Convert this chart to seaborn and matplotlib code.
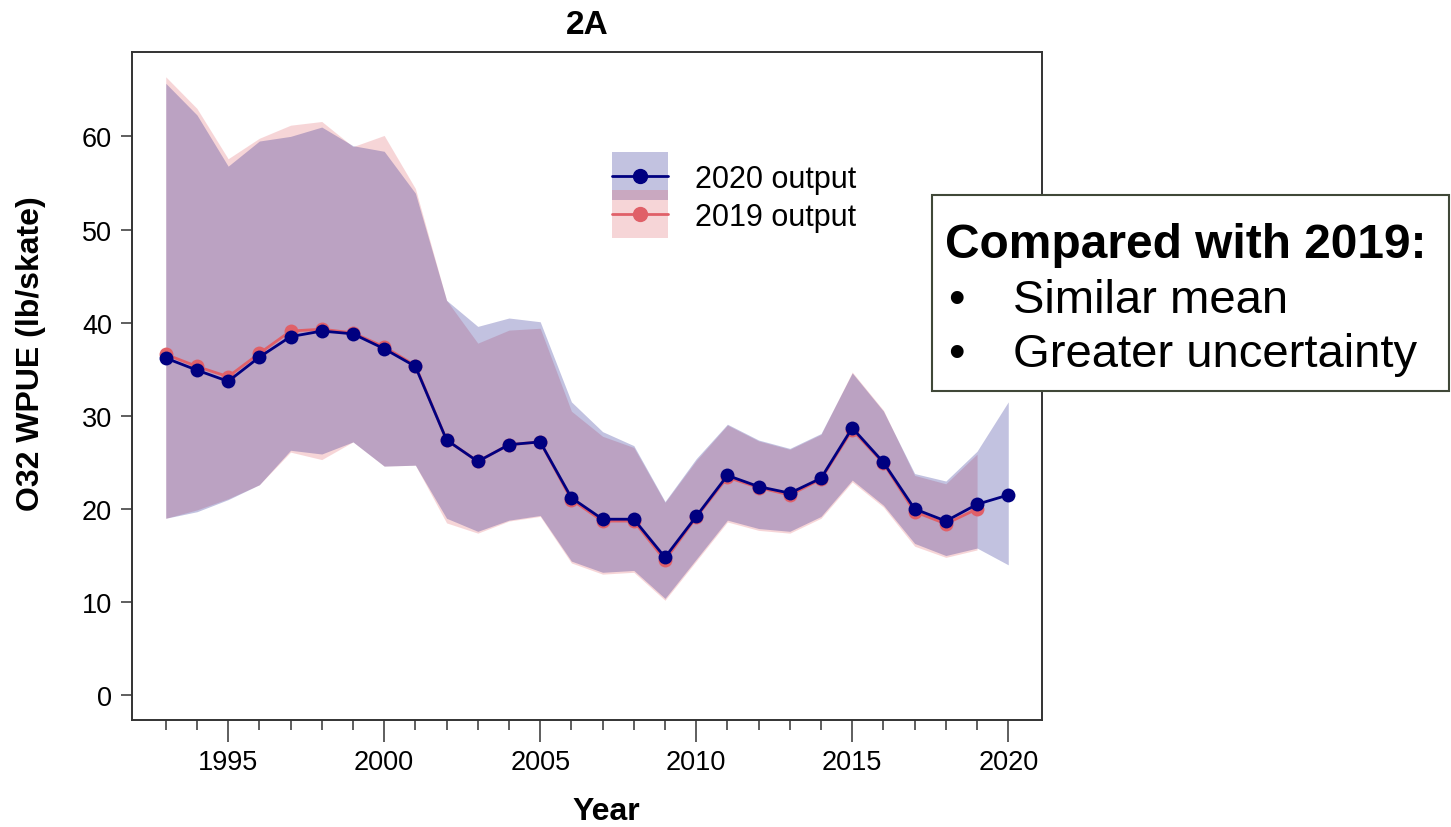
import numpy as np
import pandas as pd
import seaborn as sns
import matplotlib.pyplot as plt
from matplotlib.patches import Patch, Rectangle
from matplotlib.lines import Line2D
from matplotlib.legend_handler import HandlerPatch

# Годы и значения
years_2020 = list(range(1993, 2021))
years_2019 = list(range(1993, 2020))

mean_2020 = [36.2, 34.9, 33.7, 36.3, 38.5, 39.1, 38.8, 37.2, 35.3, 27.4,
             25.1, 26.9, 27.2, 21.2, 18.9, 18.9, 14.8, 19.2, 23.6, 22.4,
             21.7, 23.3, 28.7, 25.0, 20.0, 18.7, 20.5, 21.5]
upper_2020 = [65.7, 62.3, 56.8, 59.5, 60.0, 61.0, 59.0, 58.4, 53.9, 42.4,
              39.6, 40.5, 40.1, 31.5, 28.3, 26.8, 20.8, 25.4, 29.1, 27.4,
              26.5, 28.1, 34.6, 30.5, 23.8, 23.0, 26.2, 31.5]
lower_2020 = [19.0, 19.7, 21.0, 22.6, 26.3, 25.9, 27.2, 24.6, 24.7, 19.0,
              17.6, 18.8, 19.3, 14.4, 13.2, 13.4, 10.4, 14.6, 18.8, 17.9,
              17.6, 19.2, 23.1, 20.4, 16.3, 15.0, 15.8, 14.0]

mean_2019 = [36.6, 35.3, 34.2, 36.7, 39.1, 39.3, 38.9, 37.4, 35.4, 27.4,
             25.1, 26.9, 27.2, 21.0, 18.7, 18.7, 14.5, 19.1, 23.4, 22.3,
             21.5, 23.2, 28.5, 24.9, 19.7, 18.4, 20.0]
upper_2019 = [66.4, 63.0, 57.6, 59.8, 61.2, 61.6, 58.9, 60.1, 54.4, 42.4,
              37.8, 39.2, 39.4, 30.5, 27.8, 26.6, 20.7, 25.2, 29.0, 27.3,
              26.4, 28.0, 34.7, 30.6, 23.6, 22.7, 25.9]
lower_2019 = [19.0, 19.9, 21.1, 22.6, 26.1, 25.3, 27.2, 24.6, 24.7, 18.5,
              17.4, 18.7, 19.2, 14.2, 13.0, 13.2, 10.2, 14.4, 18.6, 17.7,
              17.4, 19.0, 22.9, 20.2, 16.0, 14.8, 15.6]

series_labels = ['2019 output', '2020 output']
colors = {'2019 output': '#e06068', '2020 output': '#000080'}

df = pd.concat([
    pd.DataFrame({'Year': years_2019, 'WPUE': mean_2019, 'run': '2019 output'}),
    pd.DataFrame({'Year': years_2020, 'WPUE': mean_2020, 'run': '2020 output'}),
])

sns.set_style('ticks')
plt.rcParams['font.family'] = ['Liberation Sans', 'DejaVu Sans']
plt.rcParams['text.color'] = 'black'
plt.rcParams['axes.labelcolor'] = 'black'
plt.rcParams['xtick.color'] = 'black'
plt.rcParams['ytick.color'] = 'black'

fig = plt.figure(figsize=(14.51, 8.28), dpi=100)
ax = fig.add_axes([0.0910, 0.1292, 0.6271, 0.8068])

# Доверительные интервалы: сначала 2019, затем 2020 поверх
ax.fill_between(years_2019, lower_2019, upper_2019, color=colors['2019 output'],
                alpha=0.26, linewidth=0)
ax.fill_between(years_2020, lower_2020, upper_2020, color=colors['2020 output'],
                alpha=0.24, linewidth=0)

sns.lineplot(data=df, x='Year', y='WPUE', hue='run', hue_order=series_labels,
             palette=colors, marker='o', markersize=10, markeredgewidth=0,
             linewidth=2, legend=False, ax=ax)

ax.set_xlim(1991.92, 2021.08)
ax.set_ylim(-2.66, 69.06)
ax.set_xticks(range(1995, 2021, 5))
ax.set_xticks(range(1993, 2021), minor=True)
ax.set_yticks(range(0, 61, 10))
ax.tick_params(axis='x', which='major', length=16, width=1.1, pad=5,
               labelsize=19.5, color='#333333')
ax.tick_params(axis='x', which='minor', length=7, width=1.1, color='#333333')
ax.tick_params(axis='y', length=8, width=1.1, pad=6.5, labelsize=19.5,
               color='#333333')
for s in ax.spines.values():
    s.set_visible(True)
    s.set_color('#333333')
    s.set_linewidth(1.4)

ax.set_title('2A', fontsize=24, fontweight='bold', pad=14)
ax.set_xlabel('Year', fontsize=23, fontweight='bold')
ax.set_ylabel('O32 WPUE (lb/skate)', fontsize=23, fontweight='bold')
ax.xaxis.set_label_coords(0.521, -0.114)
ax.yaxis.set_label_coords(-0.095, 0.55)


# Прямоугольник полосы в легенде, центрированный по линии
def legend_band(legend, orig_handle, xdescent, ydescent, width, height, fontsize):
    h = 1.57 * fontsize
    yc = (height - ydescent) / 2
    return Rectangle((-xdescent, yc - h / 2), width, h)


handles = [
    (Patch(facecolor=colors['2020 output'], alpha=0.24, linewidth=0),
     Line2D([], [], color=colors['2020 output'], marker='o', markersize=10, lw=2)),
    (Patch(facecolor=colors['2019 output'], alpha=0.26, linewidth=0),
     Line2D([], [], color=colors['2019 output'], marker='o', markersize=10, lw=2)),
]
ax.legend(handles, ['2020 output', '2019 output'], loc='upper left',
          bbox_to_anchor=(0.5275, 0.8325), frameon=False, fontsize=22,
          borderpad=0, borderaxespad=0, handlelength=1.83, handleheight=0.7,
          handletextpad=0.88, labelspacing=0.25,
          handler_map={Patch: HandlerPatch(patch_func=legend_band)})

# Текстовый блок справа
fig.add_artist(Rectangle((932 / 1451, 1 - 392 / 828), 517 / 1451, 196 / 828,
                         transform=fig.transFigure, facecolor='white',
                         edgecolor='#404838', linewidth=1.5, zorder=5))
fig.text(945 / 1451, 1 - 258 / 828, 'Compared with 2019:', fontsize=34.5,
         fontweight='bold', va='baseline', zorder=6)
fig.text(948 / 1451, 1 - 313 / 828, '\u2022', fontsize=34, va='baseline', zorder=6)
fig.text(1013 / 1451, 1 - 313 / 828, 'Similar mean', fontsize=34,
         va='baseline', zorder=6)
fig.text(948 / 1451, 1 - 367 / 828, '\u2022', fontsize=34, va='baseline', zorder=6)
fig.text(1013 / 1451, 1 - 367 / 828, 'Greater uncertainty', fontsize=34,
         va='baseline', zorder=6)

fig.savefig('out.png', dpi=100)
